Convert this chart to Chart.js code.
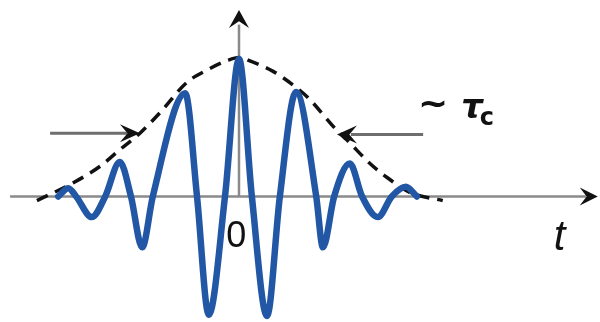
<!DOCTYPE html>
<html>
<head>
<meta charset="utf-8">
<script src="https://cdn.jsdelivr.net/npm/chart.js@4"></script>
<style>
  html, body { margin: 0; padding: 0; background: #fff; }
  #wrap { width: 600px; height: 322px; }
</style>
</head>
<body>
<div id="wrap"><canvas id="chart" width="600" height="322"></canvas></div>
<script>
// 波包（蓝色）读数：时间 / 振幅
const waveTime = [-3.23, -3.05, -2.91, -2.63, -2.39, -2.13, -1.93, -1.73, -1.54, -0.96, -0.75, -0.54, -0.25, 0, 0.23, 0.5, 0.73, 1.02, 1.38, 1.5, 1.7, 1.98, 2.2, 2.48, 2.73, 2.98, 3.18];
const waveAmp  = [0, 0.06, 0, -0.15, 0, 0.25, 0, -0.37, 0, 0.75, 0, -0.86, 0, 1.0, 0, -0.87, 0, 0.76, 0, -0.37, 0, 0.24, 0, -0.15, 0, 0.07, 0];

// 包络（虚线）读数
const envTime = [-3.61, -2.96, -2.48, -2.13, -1.77, -1.41, -0.93, -0.57, -0.2, 0, 0.23, 0.61, 1.0, 1.23, 1.75, 1.93, 2.34, 2.64, 3.05, 3.64];
const envAmp  = [-0.03, 0.1, 0.22, 0.34, 0.46, 0.61, 0.83, 0.92, 0.99, 1.01, 0.98, 0.91, 0.8, 0.72, 0.48, 0.41, 0.24, 0.14, 0.03, -0.03];

// 坐标轴范围
const tMin = -4.27, tMax = 6.45;
const aMin = -0.913, aMax = 1.429;

const toPoints = (xs, ys) => xs.map((x, i) => ({ x: x, y: ys[i] }));

// 箭头
function arrowHead(ctx, x, y, angle, len, half) {
    ctx.save();
    ctx.translate(x, y);
    ctx.rotate(angle);
    ctx.beginPath();
    ctx.moveTo(0, 0);
    ctx.lineTo(-len, -half);
    ctx.lineTo(-len * 0.62, 0);
    ctx.lineTo(-len, half);
    ctx.closePath();
    ctx.fillStyle = '#111';
    ctx.fill();
    ctx.restore();
}

const decor = {
    id: 'decor',
    afterDatasetsDraw(chart) {
        const ctx = chart.ctx;
        const xs = chart.scales.x, ys = chart.scales.y;
        const X = v => xs.getPixelForValue(v);
        const Y = v => ys.getPixelForValue(v);

        // 坐标轴箭头
        arrowHead(ctx, X(6.41), Y(0), 0, 18, 9);
        arrowHead(ctx, X(0), Y(1.356), -Math.PI / 2, 18, 10);

        // τc 指示箭头
        ctx.save();
        ctx.strokeStyle = '#6e6e6e';
        ctx.lineWidth = 3;
        ctx.beginPath();
        ctx.moveTo(X(-3.375), Y(0.46));
        ctx.lineTo(X(-2.0), Y(0.46));
        ctx.moveTo(X(3.29), Y(0.45));
        ctx.lineTo(X(2.0), Y(0.45));
        ctx.stroke();
        ctx.restore();
        arrowHead(ctx, X(-1.77), Y(0.46), 0, 20, 9);
        arrowHead(ctx, X(1.75), Y(0.45), Math.PI, 20, 9);

        // 文字
        ctx.save();
        ctx.fillStyle = '#111';
        ctx.textBaseline = 'alphabetic';
        ctx.textAlign = 'center';
        ctx.font = '36px "Liberation Sans Narrow", "Liberation Sans", Arial, sans-serif';
        ctx.fillText('0', X(-0.05), Y(-0.367));
        ctx.font = 'italic 42px "Liberation Sans", Arial, sans-serif';
        ctx.fillText('t', X(5.73), Y(-0.39));
        ctx.textAlign = 'left';
        ctx.font = 'bold 36px "DejaVu Sans", sans-serif';
        ctx.fillText('~', X(3.2), Y(0.59));
        ctx.font = 'bold italic 34px "DejaVu Sans", sans-serif';
        ctx.fillText('τ', X(3.97), Y(0.57));
        ctx.font = 'bold 24px "DejaVu Sans", sans-serif';
        ctx.fillText('c', X(4.3), Y(0.52));
        ctx.restore();
    }
};

new Chart(document.getElementById('chart'), {
    type: 'line',
    data: {
        datasets: [
            {
                label: 'wave',
                data: toPoints(waveTime, waveAmp),
                borderColor: '#2257a5',
                borderWidth: 6.5,
                pointRadius: 0,
                cubicInterpolationMode: 'monotone',
                borderCapStyle: 'round',
                borderJoinStyle: 'round'
            },
            {
                label: 'envelope',
                data: toPoints(envTime, envAmp),
                borderColor: '#111',
                borderWidth: 3.5,
                borderDash: [12, 8],
                pointRadius: 0,
                cubicInterpolationMode: 'monotone'
            },
            {
                label: 'axisT',
                data: [{ x: -4.09, y: 0 }, { x: 6.2, y: 0 }],
                borderColor: '#8a8a8a',
                borderWidth: 2.5,
                pointRadius: 0
            },
            {
                label: 'axisA',
                data: [{ x: 0, y: 0 }, { x: 0, y: 1.25 }],
                borderColor: '#8a8a8a',
                borderWidth: 2.5,
                pointRadius: 0
            }
        ]
    },
    options: {
        responsive: false,
        animation: false,
        devicePixelRatio: 1,
        layout: { padding: 0 },
        plugins: {
            legend: { display: false },
            tooltip: { enabled: false }
        },
        scales: {
            x: { type: 'linear', min: tMin, max: tMax, display: false },
            y: { type: 'linear', min: aMin, max: aMax, display: false }
        }
    },
    plugins: [decor]
});
</script>
</body>
</html>
